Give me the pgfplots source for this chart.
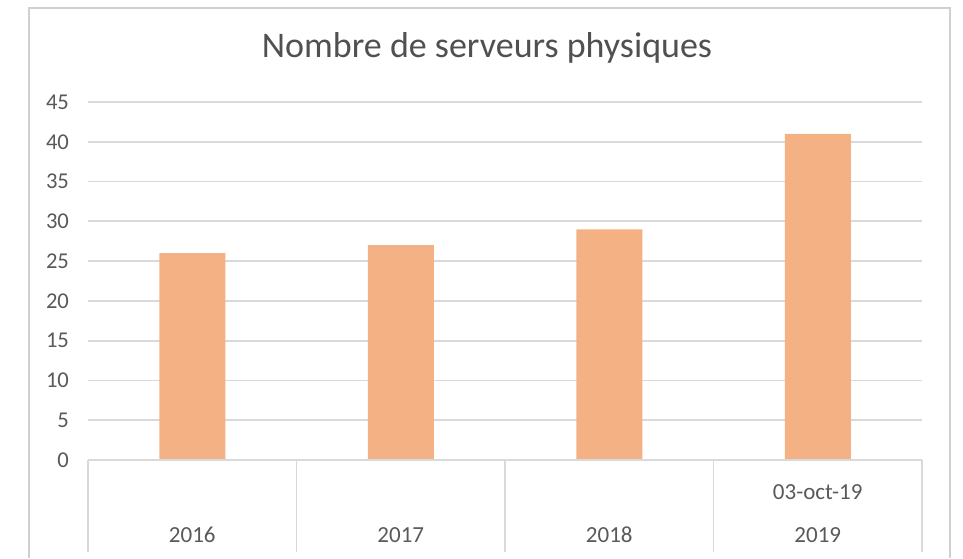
\documentclass[border=0pt]{standalone}
\usepackage{pgfplots}
\pgfplotsset{compat=1.18}
\usepackage{fontspec}
\setmainfont{Carlito}
\definecolor{barorange}{HTML}{F4B183}
\definecolor{gridgray}{HTML}{D9D9D9}
\definecolor{txtgray}{HTML}{595959}
\definecolor{titlegray}{HTML}{505050}
\definecolor{framegray}{HTML}{D0D0D0}
\begin{document}
\begin{tikzpicture}
% 1 px of the reference = 0.5pt
\useasboundingbox (0,0) rectangle (481.5pt,279pt);
\draw[framegray, line width=0.8pt] (14.5pt,0pt) -- (14.5pt,275pt) -- (475pt,275pt) -- (475pt,0pt);
\begin{axis}[
  at={(44pt,49pt)}, anchor=south west,
  scale only axis,
  width=417pt, height=179pt,
  xmin=-0.5, xmax=3.5,
  ymin=0, ymax=45,
  ytick={0,5,...,45},
  xtick=\empty,
  axis line style={draw=none},
  major tick length=0pt,
  ymajorgrids,
  grid style={gridgray, line width=0.9pt},
  yticklabel style={font=\fontsize{11.3}{13}\selectfont, text=txtgray, xshift=-6pt},
  /pgf/number format/assume math mode=true,
  clip=false,
]
\addplot[ybar, bar width=33pt, fill=barorange, draw=none] coordinates {
  (0,26) (1,27) (2,29) (3,41)
};
% multi-level category axis
\draw[gridgray, line width=0.9pt] (axis cs:-0.5,0) -- (axis cs:3.5,0);
\pgfplotsinvokeforeach{-0.5,0.5,1.5,2.5,3.5}{
  \draw[gridgray, line width=0.9pt] (axis cs:#1,0) -- ([yshift=-46pt]axis cs:#1,0);
}
\pgfplotsinvokeforeach{0,1,2,3}{
  \node[text=txtgray, font=\fontsize{11.5}{13}\selectfont, yshift=-37.5pt] at (axis cs:#1,0) {\pgfmathparse{int(2016+#1)}\pgfmathresult};
}
\node[text=txtgray, font=\fontsize{11.5}{13}\selectfont, yshift=-16pt] at (axis cs:3,0) {03-oct-19};
\end{axis}
\node[text=titlegray, font=\fontsize{18}{21}\selectfont] at (243.5pt,255pt) {Nombre de serveurs physiques};
\end{tikzpicture}
\end{document}
